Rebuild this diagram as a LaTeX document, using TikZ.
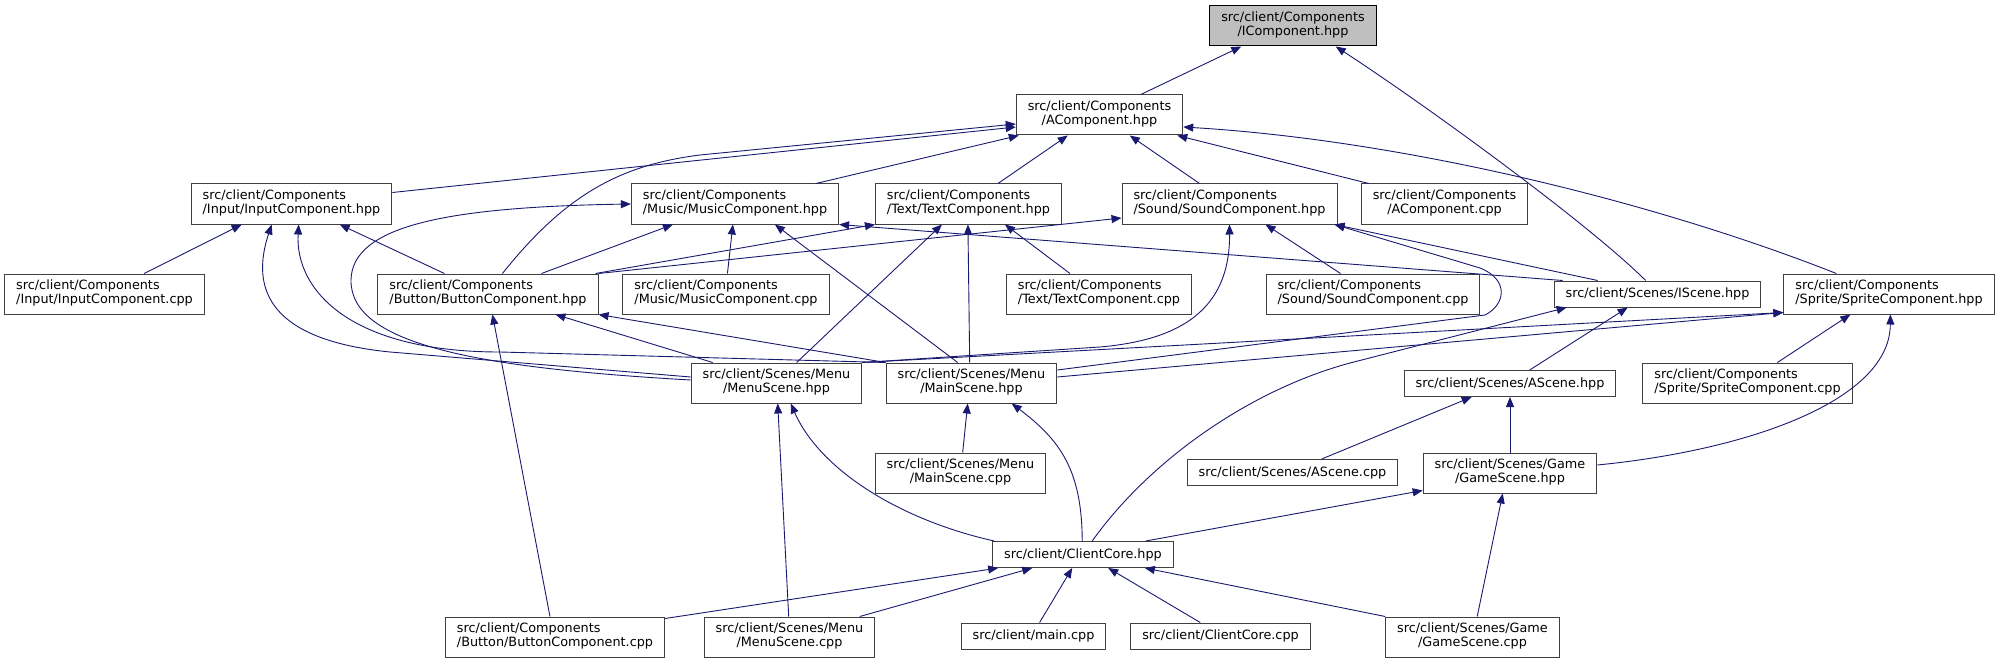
\documentclass[tikz,border=0pt]{standalone}
\usepackage{fontspec}
\setmainfont{DejaVu Sans}
\usepackage{xcolor}
\usepackage{tikz}
\usetikzlibrary{arrows.meta}
\definecolor{doxyblue}{HTML}{191970}
\definecolor{rootgrey}{HTML}{BFBFBF}
\definecolor{boxborder}{HTML}{404040}
\newcommand{\flabel}[2]{\begin{tabular}{@{}l@{}}#1\\\hfill#2\hfill\mbox{}\end{tabular}}

\begin{document}
\begin{tikzpicture}[x=1pt, y=-1pt, font=\fontsize{12.8}{14}\selectfont,
  filebox/.style={draw=boxborder, fill=white, line width=1pt, inner xsep=11.5pt, inner ysep=6pt, minimum height=26pt},
  rootbox/.style={filebox, fill=rootgrey, draw=black},
  incl/.style={-{Triangle[length=10pt,width=8pt]}, doxyblue, line width=0.9pt}]
  \useasboundingbox (0,0) rectangle (1999,663);

  \node[rootbox] (icomp) at (1293,26) {\flabel{src/client/Components}{/IComponent.hpp}};
  \node[filebox] (acomp) at (1099.5,115) {\flabel{src/client/Components}{/AComponent.hpp}};
  \node[filebox] (inputh) at (291.5,204) {\flabel{src/client/Components}{/Input/InputComponent.hpp}};
  \node[filebox] (musich) at (735,204) {\flabel{src/client/Components}{/Music/MusicComponent.hpp}};
  \node[filebox] (texth) at (968.5,204) {\flabel{src/client/Components}{/Text/TextComponent.hpp}};
  \node[filebox] (soundh) at (1229.5,204) {\flabel{src/client/Components}{/Sound/SoundComponent.hpp}};
  \node[filebox] (acompcpp) at (1444.5,204) {\flabel{src/client/Components}{/AComponent.cpp}};
  \node[filebox] (inputcpp) at (104.5,294) {\flabel{src/client/Components}{/Input/InputComponent.cpp}};
  \node[filebox] (buttonh) at (488,294) {\flabel{src/client/Components}{/Button/ButtonComponent.hpp}};
  \node[filebox] (musiccpp) at (726,294) {\flabel{src/client/Components}{/Music/MusicComponent.cpp}};
  \node[filebox] (textcpp) at (1099,294) {\flabel{src/client/Components}{/Text/TextComponent.cpp}};
  \node[filebox] (soundcpp) at (1373,294) {\flabel{src/client/Components}{/Sound/SoundComponent.cpp}};
  \node[filebox] (iscene) at (1657.5,294) {src/client/Scenes/IScene.hpp};
  \node[filebox] (spriteh) at (1889,294) {\flabel{src/client/Components}{/Sprite/SpriteComponent.hpp}};
  \node[filebox] (menuh) at (776.5,383) {\flabel{src/client/Scenes/Menu}{/MenuScene.hpp}};
  \node[filebox] (mainh) at (971.5,383) {\flabel{src/client/Scenes/Menu}{/MainScene.hpp}};
  \node[filebox] (ascene) at (1510,383.5) {src/client/Scenes/AScene.hpp};
  \node[filebox] (spritecpp) at (1747.5,383) {\flabel{src/client/Components}{/Sprite/SpriteComponent.cpp}};
  \node[filebox] (maincpp) at (960.5,473) {\flabel{src/client/Scenes/Menu}{/MainScene.cpp}};
  \node[filebox] (ascenecpp) at (1292.5,472.5) {src/client/Scenes/AScene.cpp};
  \node[filebox] (gameh) at (1510,473) {\flabel{src/client/Scenes/Game}{/GameScene.hpp}};
  \node[filebox] (core) at (1083,554.5) {src/client/ClientCore.hpp};
  \node[filebox] (buttoncpp) at (555,637) {\flabel{src/client/Components}{/Button/ButtonComponent.cpp}};
  \node[filebox] (menucpp) at (789.5,637) {\flabel{src/client/Scenes/Menu}{/MenuScene.cpp}};
  \node[filebox] (mainc) at (1033.5,636) {src/client/main.cpp};
  \node[filebox] (corecpp) at (1220.5,636) {src/client/ClientCore.cpp};
  \node[filebox] (gamecpp) at (1472.5,637) {\flabel{src/client/Scenes/Game}{/GameScene.cpp}};

  \draw[incl] ([xshift=125pt]acomp.north west) -- ([xshift=32pt]icomp.south west);
  \draw[incl] ([xshift=92pt]iscene.north west) .. controls (1590,225) and (1430,108) .. ([xshift=-41pt]icomp.south east);

  \draw[incl] ([yshift=-9pt]inputh.north east) -- ([yshift=-12pt]acomp.west);
  \draw[incl] ([xshift=125pt]buttonh.north west) .. controls (565,195) and (620,165) .. (700,155) -- ([yshift=-9pt]acomp.west);
  \draw[incl] ([xshift=185pt]musich.north west) -- ([xshift=3pt]acomp.south west);
  \draw[incl] ([xshift=123pt]texth.north west) -- ([xshift=52pt]acomp.south west);
  \draw[incl] ([xshift=78pt]soundh.north west) -- ([xshift=114pt]acomp.south west);
  \draw[incl] ([xshift=8pt]acompcpp.north west) -- ([xshift=-6pt]acomp.south east);
  \draw[incl] ([xshift=53pt]spriteh.north west) .. controls (1650,200) and (1400,140) .. ([yshift=-12pt]acomp.east);

  \draw[incl] ([xshift=140pt]inputcpp.north west) -- ([xshift=51pt]inputh.south west);
  \draw[incl] ([xshift=67pt]buttonh.north west) -- ([xshift=149pt]inputh.south west);
  \draw[incl] ([yshift=6pt]menuh.west) -- (390,352) .. controls (270,340) and (250,290) .. ([xshift=81pt]inputh.south west);
  \draw[incl] (mainh.north west) -- (500,352) .. controls (350,352) and (295,290) .. ([xshift=108pt]inputh.south west);

  \draw[incl] ([yshift=3pt]menuh.west) .. controls (480,368) and (350,345) .. (351,280) .. controls (352,225) and (450,207) .. (musich.west);
  \draw[incl] ([xshift=164pt]buttonh.north west) -- ([xshift=42pt]musich.south west);
  \draw[incl] ([xshift=105pt]musiccpp.north west) -- ([xshift=102pt]musich.south west);
  \draw[incl] ([xshift=72pt]mainh.north west) -- ([xshift=144pt]musich.south west);
  \draw[incl] ([xshift=9pt]iscene.north west) -- (musich.south east);

  \draw[incl] ([xshift=-3pt]buttonh.north east) -- (texth.south west);
  \draw[incl] ([xshift=106pt]menuh.north west) -- ([xshift=67pt]texth.south west);
  \draw[incl] ([xshift=84pt]mainh.north west) -- ([xshift=93pt]texth.south west);
  \draw[incl] ([xshift=64pt]textcpp.north west) -- ([xshift=130pt]texth.south west);

  \draw[incl] (buttonh.north east) -- ([yshift=-14pt]soundh.west);
  \draw[incl] (menuh.north east) -- (1100,347) .. controls (1180,340) and (1230,310) .. ([xshift=108pt]soundh.south west);
  \draw[incl] ([xshift=75pt]soundcpp.north west) -- ([xshift=144pt]soundh.south west);
  \draw[incl] ([xshift=44pt]iscene.north west) -- ([xshift=-3pt]soundh.south east);
  \draw[incl] ([yshift=13pt]mainh.east) -- (1485,315) .. controls (1505,305) and (1510,280) .. (1480,268) -- ([xshift=-3pt]soundh.south east);

  \draw[incl] ([xshift=126pt]ascene.north west) -- ([xshift=74pt]iscene.south west);
  \draw[incl] ([xshift=100pt]core.north west) .. controls (1150,460) and (1250,390) .. (1350,363) -- ([xshift=13pt]iscene.south west);

  \draw[incl] (menuh.north east) -- ([yshift=2pt]spriteh.south west);
  \draw[incl] ([yshift=6pt]mainh.east) -- ([yshift=2pt]spriteh.south west);
  \draw[incl] ([xshift=135pt]spritecpp.north west) -- ([xshift=67pt]spriteh.south west);
  \draw[incl] ([yshift=8pt]gameh.east) .. controls (1750,450) and (1890,400) .. ([xshift=107pt]spriteh.south west);

  \draw[incl] ([xshift=105pt]buttoncpp.north west) -- ([xshift=115pt]buttonh.south west);
  \draw[incl] ([xshift=22pt]menuh.north west) -- ([xshift=178pt]buttonh.south west);
  \draw[incl] (mainh.north west) -- (buttonh.south east);

  \draw[incl] ([xshift=85pt]menucpp.north west) -- ([xshift=87pt]menuh.south west);
  \draw[incl] ([xshift=2pt]core.north west) .. controls (900,520) and (820,470) .. ([xshift=100pt]menuh.south west);
  \draw[incl] ([xshift=88pt]maincpp.north west) -- ([xshift=82pt]mainh.south west);
  \draw[incl] ([xshift=90pt]core.north west) .. controls (1082,470) and (1060,440) .. ([xshift=126pt]mainh.south west);

  \draw[incl] ([xshift=135pt]ascenecpp.north west) -- ([xshift=68pt]ascene.south west);
  \draw[incl] (gameh.north) -- (ascene.south);
  \draw[incl] ([xshift=-28pt]core.north east) -- ([yshift=3pt]gameh.south west);
  \draw[incl] ([xshift=92pt]gamecpp.north west) -- ([xshift=80pt]gameh.south west);

  \draw[incl] ([yshift=-2pt]buttoncpp.north east) -- ([xshift=6pt]core.south west);
  \draw[incl] ([xshift=156pt]menucpp.north west) -- ([xshift=40pt]core.south west);
  \draw[incl] ([xshift=79pt]mainc.north west) -- ([xshift=80pt]core.south west);
  \draw[incl] ([xshift=70pt]corecpp.north west) -- ([xshift=116pt]core.south west);
  \draw[incl] (gamecpp.north west) -- ([xshift=-29pt]core.south east);
\end{tikzpicture}
\end{document}
